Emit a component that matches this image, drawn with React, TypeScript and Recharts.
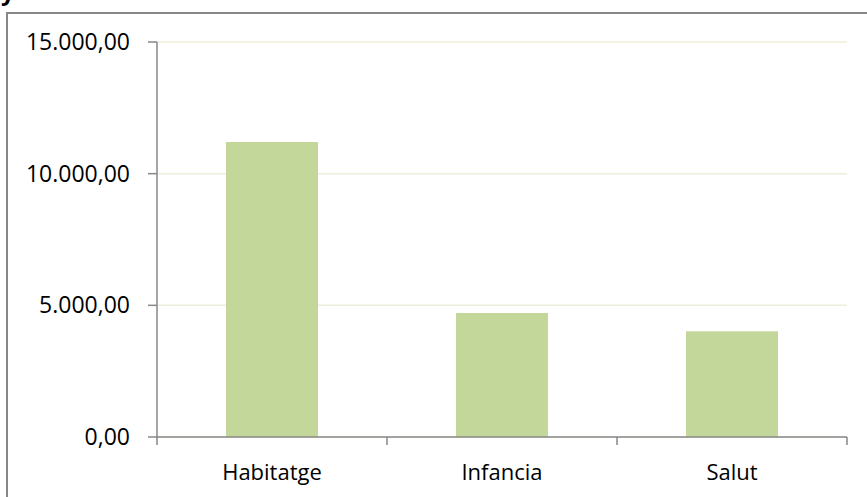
import React from "react";
import { BarChart, Bar, XAxis, YAxis, CartesianGrid } from "recharts";

const categories = ["Habitatge", "Infancia", "Salut"];
const amounts = [11200, 4710, 4020];
const yTicks = [0, 5000, 10000, 15000];

const data = categories.map((name, i) => ({ name, value: amounts[i] }));

const W = 867;
const H = 497;
const MARGIN = { top: 42, right: 20, bottom: 0, left: 0 };
const Y_AXIS_W = 157;
const X_AXIS_H = 60;
const BAND = (W - Y_AXIS_W - MARGIN.right) / categories.length;
const FONT = "'Open Sans', Calibri, sans-serif";
const AXIS = "#878787";

const fmt = (v: number) => {
  const [int, dec] = v.toFixed(2).split(".");
  return int.replace(/\B(?=(\d{3})+(?!\d))/g, ".") + "," + dec;
};

const X_TICK_SIZE = 8;
const X_TICK_MARGIN = 19;

const CategoryTick = (props: any) => {
  const { x, y, payload, index } = props;
  const top = y - X_TICK_MARGIN - X_TICK_SIZE;
  const bottom = y - X_TICK_MARGIN;
  return (
    <g>
      <line x1={x - BAND / 2} y1={top} x2={x - BAND / 2} y2={bottom} stroke={AXIS} strokeWidth={1.5} />
      {index === categories.length - 1 && (
        <line x1={x + BAND / 2} y1={top} x2={x + BAND / 2} y2={bottom} stroke={AXIS} strokeWidth={1.5} />
      )}
      <text x={x} y={y} dy="0.71em" textAnchor="middle" fill="#000" fontSize={22} fontFamily={FONT}>
        {payload.value}
      </text>
    </g>
  );
};

const App: React.FC = () => {
  return (
    <div style={{ position: "absolute", left: 0, top: 0, width: W, height: H, overflow: "hidden", background: "#fff" }}>
      <div
        style={{
          position: "absolute",
          left: 1,
          top: -24,
          fontFamily: FONT,
          fontWeight: 700,
          fontSize: 24,
          lineHeight: "30px",
          color: "#000",
        }}
      >
        y
      </div>
      <div
        style={{
          position: "absolute",
          left: 6,
          top: 12,
          width: 950,
          height: 600,
          border: `2px solid ${AXIS}`,
          boxSizing: "border-box",
        }}
      />
      <div style={{ position: "absolute", left: 0, top: 0 }}>
        <BarChart width={W} height={H} data={data} margin={MARGIN} barCategoryGap="30%">
          <CartesianGrid vertical={false} stroke="#efeedd" strokeWidth={1.5} />
          <XAxis
            dataKey="name"
            height={X_AXIS_H}
            axisLine={{ stroke: AXIS, strokeWidth: 1.5 }}
            tickLine={false}
            tickSize={X_TICK_SIZE}
            tickMargin={X_TICK_MARGIN}
            tick={<CategoryTick />}
            interval={0}
          />
          <YAxis
            width={Y_AXIS_W}
            domain={[0, 15000]}
            ticks={yTicks}
            tickFormatter={fmt}
            axisLine={{ stroke: AXIS, strokeWidth: 1.5 }}
            tickLine={{ stroke: AXIS, strokeWidth: 1.5 }}
            tickSize={9}
            tickMargin={18}
            tick={{ fill: "#000", fontSize: 23, fontFamily: FONT }}
          />
          <Bar dataKey="value" fill="#c4d79b" isAnimationActive={false} />
        </BarChart>
      </div>
    </div>
  );
};

export default App;
